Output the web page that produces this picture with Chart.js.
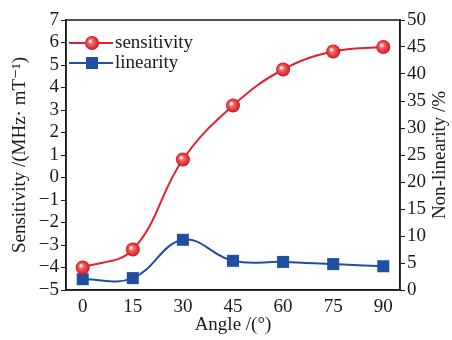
<!DOCTYPE html>
<html>
<head>
<meta charset="utf-8">
<script src="https://cdn.jsdelivr.net/npm/chart.js@4"></script>
<style>
  html, body { margin: 0; padding: 0; background: #fff; }
  #wrap { width: 452px; height: 340px; }
</style>
</head>
<body>
<div id="wrap"><canvas id="chart" width="452" height="340"></canvas></div>
<script>
// ========= DATA =========
const angles = [0, 15, 30, 45, 60, 75, 90];
const sensitivity = [-4.0, -3.2, 0.8, 3.2, 4.8, 5.6, 5.8];
const nonLinearity = [2.0, 2.2, 9.3, 5.4, 5.2, 4.8, 4.4];
const xTicks = [0, 15, 30, 45, 60, 75, 90];

const RED = '#e2222b';
const BLUE = '#1f4fa0';
const INK = '#1a1a1a';
const FONT = "'Liberation Serif', 'DejaVu Serif', serif";

// red "ball" markers with a small highlight
function ballFill(ctx) {
    const chart = ctx.chart;
    if (ctx.type !== 'data' || !chart.scales.x) return RED;
    const x = chart.scales.x.getPixelForValue(ctx.parsed.x);
    const y = chart.scales.y.getPixelForValue(ctx.parsed.y);
    if (!isFinite(x) || !isFinite(y)) return RED;
    const g = chart.ctx.createRadialGradient(x - 2, y - 2, 0.5, x, y, 7);
    g.addColorStop(0, '#ffffff');
    g.addColorStop(0.3, '#f06a6a');
    g.addColorStop(1, '#d4141c');
    return g;
}

const minus = v => String(v).replace('-', '\u2212');

// frame, inside legend and right-hand title (reads bottom to top)
const framePlugin = {
    id: 'frame',
    afterDraw(chart) {
        const { ctx, chartArea: a } = chart;
        ctx.save();
        ctx.strokeStyle = INK;
        ctx.lineWidth = 1.5;
        ctx.strokeRect(a.left, a.top, a.right - a.left, a.bottom - a.top);

        const items = [
            { label: 'sensitivity', color: RED, style: 'circle', y: a.top + 23 },
            { label: 'linearity', color: BLUE, style: 'rect', y: a.top + 43 }
        ];
        items.forEach(it => {
            const x0 = a.left + 3;
            const mx = x0 + 23;
            ctx.strokeStyle = it.color;
            ctx.lineWidth = 2;
            ctx.beginPath();
            ctx.moveTo(x0, it.y);
            ctx.lineTo(x0 + 44, it.y);
            ctx.stroke();
            if (it.style === 'circle') {
                const g = ctx.createRadialGradient(mx - 2, it.y - 2, 0.5, mx, it.y, 7);
                g.addColorStop(0, '#ffffff');
                g.addColorStop(0.3, '#f06a6a');
                g.addColorStop(1, '#d4141c');
                ctx.fillStyle = g;
                ctx.beginPath();
                ctx.arc(mx, it.y, 7, 0, Math.PI * 2);
                ctx.fill();
            } else {
                ctx.fillStyle = it.color;
                ctx.fillRect(mx - 6, it.y - 6, 12, 12);
            }
            ctx.fillStyle = INK;
            ctx.font = '19px ' + FONT;
            ctx.textBaseline = 'middle';
            ctx.textAlign = 'left';
            ctx.fillText(it.label, x0 + 46, it.y);
        });

        ctx.translate(440, (a.top + a.bottom) / 2);
        ctx.rotate(-Math.PI / 2);
        ctx.fillStyle = INK;
        ctx.font = '19px ' + FONT;
        ctx.textAlign = 'center';
        ctx.textBaseline = 'middle';
        ctx.fillText('Non-linearity /%', 0, 0);
        ctx.restore();
    }
};

const tickFont = { family: FONT, size: 19 };
const titleFont = { family: FONT, size: 19 };

new Chart(document.getElementById('chart'), {
    type: 'line',
    data: {
        datasets: [{
            label: 'sensitivity',
            data: angles.map((a, i) => ({ x: a, y: sensitivity[i] })),
            yAxisID: 'y',
            borderColor: RED,
            backgroundColor: ballFill,
            borderWidth: 2,
            pointRadius: 7,
            pointBorderWidth: 0,
            pointStyle: 'circle',
            tension: 0.4,
            fill: false
        }, {
            label: 'linearity',
            data: angles.map((a, i) => ({ x: a, y: nonLinearity[i] })),
            yAxisID: 'y1',
            borderColor: BLUE,
            backgroundColor: BLUE,
            borderWidth: 2,
            pointRadius: 8.5,
            pointBorderWidth: 0,
            pointStyle: 'rect',
            tension: 0.4,
            fill: false
        }]
    },
    options: {
        responsive: false,
        animation: false,
        layout: { padding: { top: 20, bottom: 4, left: 9, right: 0 } },
        plugins: {
            legend: { display: false },
            tooltip: { enabled: false }
        },
        scales: {
            x: {
                type: 'linear',
                min: -5,
                max: 95,
                afterBuildTicks: s => { s.ticks = xTicks.map(v => ({ value: v })); },
                grid: { display: false, drawTicks: true, tickLength: 5, tickColor: INK },
                border: { color: INK, width: 1.5 },
                ticks: { color: INK, font: tickFont, padding: 1, maxRotation: 0, autoSkip: false },
                title: { display: true, text: 'Angle /(°)', color: INK, font: titleFont, padding: { top: 0, bottom: 0 } },
                afterFit: s => { s.height = 46; }
            },
            y: {
                position: 'left',
                min: -5,
                max: 7,
                ticks: { stepSize: 1, color: INK, font: tickFont, padding: 2, autoSkip: false, callback: minus },
                grid: { drawOnChartArea: false, tickLength: 5, tickColor: INK },
                border: { color: INK, width: 1.5 },
                title: { display: true, text: 'Sensitivity /(MHz· mT⁻¹)', color: INK, font: titleFont, padding: { top: 0, bottom: 0 } },
                afterFit: s => { s.width = 57; }
            },
            y1: {
                position: 'right',
                min: 0,
                max: 50,
                ticks: { stepSize: 5, color: INK, font: tickFont, padding: 2, autoSkip: false },
                grid: { drawOnChartArea: false, tickLength: 5, tickColor: INK },
                border: { color: INK, width: 1.5 },
                title: { display: false },
                afterFit: s => { s.width = 52; }
            }
        }
    },
    plugins: [framePlugin]
});
</script>
</body>
</html>
